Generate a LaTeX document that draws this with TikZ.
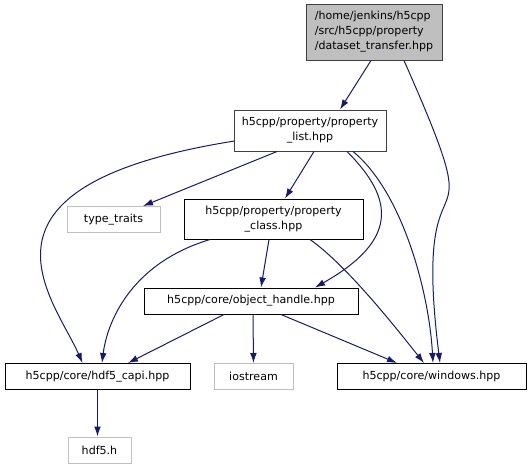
\documentclass[tikz,border=0pt]{standalone}
\usepackage{fontspec}
\setmainfont{DejaVu Sans}
\usetikzlibrary{calc,arrows.meta}

\definecolor{edgeblue}{HTML}{191970}

\begin{document}
\begin{tikzpicture}[x=0.75pt,y=0.75pt,line width=0.75pt,
  file/.style={draw=black,fill=white,inner sep=0pt,align=center,
    font=\fontsize{8.3}{11.3}\selectfont},
  extfile/.style={file,draw=black!25},
  dep/.style={edgeblue,-{Latex[length=7.5pt,width=5pt]}}]
\useasboundingbox (0,0) rectangle (531,-469);
% files
\node[file,draw=black!75,fill=black!25,align=left,minimum width=102pt,minimum height=42pt]
  (top) at (374,-32) {/home/jenkins/h5cpp\\/src/h5cpp/property\\/dataset\_transfer.hpp};
\node[file,draw=black!75,minimum width=114pt,minimum height=30.75pt]
  (plist) at (310,-130.5) {h5cpp/property/property\\\_list.hpp};
\node[extfile,minimum width=69.75pt,minimum height=19.5pt]
  (traits) at (113.5,-219.5) {type\_traits};
\node[file,minimum width=134.25pt,minimum height=30pt]
  (pclass) at (273.5,-219) {h5cpp/property/property\\\_class.hpp};
\node[file,minimum width=160.5pt,minimum height=19.5pt]
  (handle) at (251,-301) {h5cpp/core/object\_handle.hpp};
\node[file,minimum width=138.75pt,minimum height=19.5pt]
  (capi) at (97.5,-376.5) {h5cpp/core/hdf5\_capi.hpp};
\node[extfile,minimum width=59.25pt,minimum height=19.5pt]
  (iostream) at (253.5,-376.5) {iostream};
\node[file,minimum width=141.75pt,minimum height=19.5pt]
  (windows) at (431.5,-376.5) {h5cpp/core/windows.hpp};
\node[extfile,minimum width=47.25pt,minimum height=19.5pt]
  (hdf) at (99.5,-450) {hdf5.h};
% includes
\draw[dep] ($(top.south)+(-3,0)$) -- ($(plist.north)+(30,0)$);
\draw[dep] ($(top.south)+(30,0)$) .. controls +(95,-215) and +(-30,240) .. ($(windows.north)+(8.5,0)$);
\draw[dep] ($(plist.west)+(1,-10.5)$) .. controls +(-283,-45) and +(-28,64) .. ($(capi.north)+(-15,0)$);
\draw[dep] ($(plist.south)+(-33,0)$) -- ($(traits.north)+(29.5,0)$);
\draw[dep] ($(plist.south)+(4,0)$) -- ($(pclass.north)+(11.5,0)$);
\draw[dep] ($(plist.south)+(37,0)$) .. controls +(48,-48) and +(83,47) .. ($(handle.north)+(64,0)$);
\draw[dep] ($(plist.south)+(43,0)$) .. controls +(49,-40) and +(-4,72) .. ($(windows.north)+(1.5,0)$);
\draw[dep] ($(pclass.south)+(-63.5,0)$) .. controls +(-80,-24) and +(5,40) .. ($(capi.north)+(4.5,0)$);
\draw[dep] ($(pclass.south)+(-4.5,0)$) -- ($(handle.north)+(10,0)$);
\draw[dep] ($(pclass.south)+(36.5,0)$) .. controls +(37,-26) and +(-28,35) .. ($(windows.north)+(-7.5,0)$);
\draw[dep] ($(handle.south)+(-27,0)$) -- ($(capi.north)+(30.5,0)$);
\draw[dep] ($(handle.south)+(2,0)$) -- (iostream.north);
\draw[dep] ($(handle.south)+(30,0)$) -- ($(windows.north)+(-34.5,0)$);
\draw[dep] (capi.south) -- ($(hdf.north)+(-2,0)$);
\end{tikzpicture}
\end{document}
